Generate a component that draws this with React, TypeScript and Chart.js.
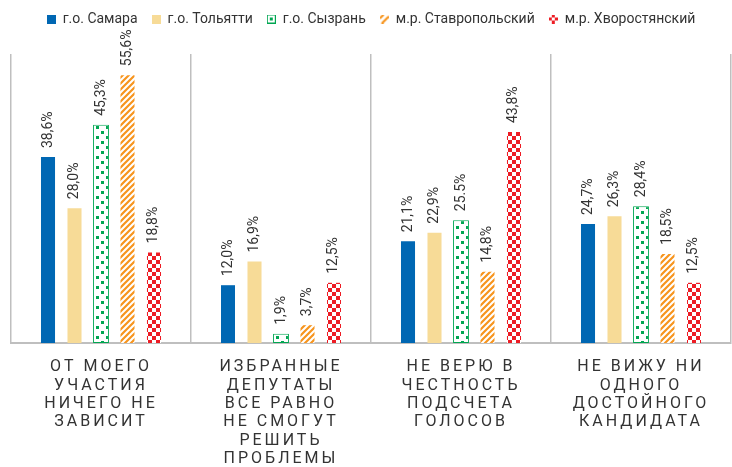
import React, { useEffect, useRef } from 'react';
import { Chart, registerables } from 'chart.js';

Chart.register(...registerables);

// ---------- data ----------
const categories: string[][] = [
  ['ОТ МОЕГО', 'УЧАСТИЯ', 'НИЧЕГО НЕ', 'ЗАВИСИТ'],
  ['ИЗБРАННЫЕ', 'ДЕПУТАТЫ', 'ВСЕ РАВНО', 'НЕ СМОГУТ', 'РЕШИТЬ', 'ПРОБЛЕМЫ'],
  ['НЕ ВЕРЮ В', 'ЧЕСТНОСТЬ', 'ПОДСЧЕТА', 'ГОЛОСОВ'],
  ['НЕ ВИЖУ НИ', 'ОДНОГО', 'ДОСТОЙНОГО', 'КАНДИДАТА'],
];
const seriesNames = ['г.о. Самара', 'г.о. Тольятти', 'г.о. Сызрань', 'м.р. Ставропольский', 'м.р. Хворостянский'];
const samara = [38.6, 12.0, 21.1, 24.7];
const tolyatti = [28.0, 16.9, 22.9, 26.3];
const syzran = [45.3, 1.9, 25.5, 28.4];
const stavropol = [55.6, 3.7, 14.8, 18.5];
const khvorostyanka = [18.8, 12.5, 43.8, 12.5];
const yMin = 0;
const yMax = 60;
// value label texts that differ from the default "12,3%" format in the source
const labelOverrides: Record<string, string> = { '2:2': '25.5%' };

// ---------- styles ----------
const BLUE = '#0067B3';
const TAN = '#F7DB97';
const GREEN = '#00A651';
const ORANGE = '#F7941D';
const RED = '#ED1C24';
const TEXT = '#333333';
const GRID = '#BFBFBF';
const FONT = 'Roboto';

function mkCanvas(w: number, h: number) {
  const c = document.createElement('canvas');
  c.width = w;
  c.height = h;
  return c;
}

function dotsTile() {
  const c = mkCanvas(10, 10);
  const g = c.getContext('2d')!;
  g.fillStyle = '#fff';
  g.fillRect(0, 0, 10, 10);
  g.fillStyle = GREEN;
  g.fillRect(1, 1, 3, 3);
  g.fillRect(6, 6, 3, 3);
  return c;
}
function stripesTile() {
  const c = mkCanvas(6, 6);
  const g = c.getContext('2d')!;
  g.fillStyle = '#fff';
  g.fillRect(0, 0, 6, 6);
  g.strokeStyle = ORANGE;
  g.lineWidth = 2.2;
  g.beginPath();
  g.moveTo(-1, 7); g.lineTo(7, -1);
  g.moveTo(-4, 4); g.lineTo(4, -4);
  g.moveTo(2, 10); g.lineTo(10, 2);
  g.stroke();
  return c;
}
function checkerTile() {
  const c = mkCanvas(8, 8);
  const g = c.getContext('2d')!;
  g.fillStyle = '#fff';
  g.fillRect(0, 0, 8, 8);
  g.fillStyle = RED;
  g.fillRect(0, 0, 4, 4);
  g.fillRect(4, 4, 4, 4);
  return c;
}

function legendIcons() {
  const s = 9;
  const solid = (col: string) => {
    const c = mkCanvas(s, s);
    const g = c.getContext('2d')!;
    g.fillStyle = col;
    g.fillRect(0, 0, s, s);
    return c;
  };
  const dots = (() => {
    const c = mkCanvas(s, s);
    const g = c.getContext('2d')!;
    g.fillStyle = '#fff';
    g.fillRect(0, 0, s, s);
    g.strokeStyle = GREEN;
    g.lineWidth = 1;
    g.strokeRect(0.5, 0.5, s - 1, s - 1);
    g.fillStyle = GREEN;
    g.fillRect(3, 3, 3, 3);
    return c;
  })();
  const stripes = (() => {
    const c = mkCanvas(s, s);
    const g = c.getContext('2d')!;
    g.strokeStyle = ORANGE;
    g.lineWidth = 2.2;
    g.beginPath();
    g.moveTo(0, 4); g.lineTo(4, 0);
    g.moveTo(2, 9); g.lineTo(9, 2);
    g.stroke();
    return c;
  })();
  const cross = (() => {
    const c = mkCanvas(s, s);
    const g = c.getContext('2d')!;
    g.fillStyle = RED;
    g.fillRect(3, 0, 3, 3);
    g.fillRect(0, 3, 3, 3);
    g.fillRect(6, 3, 3, 3);
    g.fillRect(3, 6, 3, 3);
    return c;
  })();
  return [solid(BLUE), solid(TAN), dots, stripes, cross];
}

export default function App() {
  const ref = useRef<HTMLCanvasElement | null>(null);

  useEffect(() => {
    const canvas = ref.current;
    if (!canvas) return;
    const ctx0 = canvas.getContext('2d')!;
    const dotP = ctx0.createPattern(dotsTile(), 'repeat')!;
    const stripeP = ctx0.createPattern(stripesTile(), 'repeat')!;
    const checkP = ctx0.createPattern(checkerTile(), 'repeat')!;
    const icons = legendIcons();

    const valueLabelPlugin = {
      id: 'valueLabels',
      afterDatasetsDraw(chart: any) {
        const ctx = chart.ctx as CanvasRenderingContext2D;
        ctx.save();
        (ctx as any).letterSpacing = '0px';
        ctx.font = `14px ${FONT}`;
        ctx.fillStyle = TEXT;
        ctx.textAlign = 'left';
        ctx.textBaseline = 'middle';
        chart.data.datasets.forEach((ds: any, di: number) => {
          const meta = chart.getDatasetMeta(di);
          meta.data.forEach((bar: any, i: number) => {
            const v = ds.data[i] as number;
            const text = labelOverrides[`${di}:${i}`] ?? v.toFixed(1).replace('.', ',') + '%';
            const { x, y } = bar.getProps(['x', 'y'], true);
            ctx.save();
            ctx.translate(x, y - 9);
            ctx.rotate(-Math.PI / 2);
            ctx.fillText(text, 0, 0);
            ctx.restore();
          });
        });
        ctx.restore();
        // category labels are drawn after this hook (ticks z = 1): widen their tracking
        (ctx as any).letterSpacing = '3px';
      },
      afterDraw(chart: any) {
        (chart.ctx as any).letterSpacing = '0px';
      },
    };

    const common = { categoryPercentage: 0.736, barPercentage: 0.53, borderWidth: 0 };

    const chart = new Chart(canvas, {
      type: 'bar',
      data: {
        labels: categories,
        datasets: [
          { label: seriesNames[0], data: samara, backgroundColor: BLUE, ...common },
          { label: seriesNames[1], data: tolyatti, backgroundColor: TAN, ...common },
          {
            label: seriesNames[2], data: syzran, backgroundColor: dotP, ...common,
            barPercentage: 0.6, borderWidth: 1, borderColor: GREEN, borderSkipped: false,
          },
          { label: seriesNames[3], data: stavropol, backgroundColor: stripeP, ...common },
          { label: seriesNames[4], data: khvorostyanka, backgroundColor: checkP, ...common },
        ],
      },
      options: {
        animation: false,
        responsive: false,
        layout: { padding: { left: 11, right: 1, top: -2, bottom: 0 } },
        plugins: {
          legend: {
            position: 'top',
            labels: {
              usePointStyle: true,
              boxWidth: 9,
              boxHeight: 9,
              padding: 14,
              color: TEXT,
              font: { family: FONT, size: 14 },
              generateLabels: (chart: any) => {
                const items = Chart.defaults.plugins.legend.labels.generateLabels(chart);
                return items.map((it: any, i: number) => ({ ...it, pointStyle: icons[i], lineWidth: 0 }));
              },
            },
          },
          // empty spacer box between the legend and the plot area
          title: {
            display: true,
            text: '',
            weight: 500,
            font: { size: 1, lineHeight: 1 },
            padding: { top: 17, bottom: 0 },
          },
          tooltip: { enabled: false },
        },
        scales: {
          x: {
            grid: { offset: true, color: GRID, lineWidth: 1.5, drawTicks: false },
            border: { display: true, color: GRID, width: 2 },
            ticks: {
              z: 1,
              padding: 15,
              color: TEXT,
              font: { family: FONT, size: 16, lineHeight: 1.15 },
              maxRotation: 0,
              autoSkip: false,
            },
            afterFit: (s: any) => { s.height = 124; },
          },
          y: { display: false, min: yMin, max: yMax },
        },
      },
      plugins: [valueLabelPlugin],
    } as any);

    return () => chart.destroy();
  }, []);

  return (
    <div style={{ position: 'absolute', left: 0, top: 0, width: 732, height: 467, background: '#fff' }}>
      <canvas ref={ref} width={732} height={467} style={{ display: 'block', width: 732, height: 467 }} />
    </div>
  );
}
